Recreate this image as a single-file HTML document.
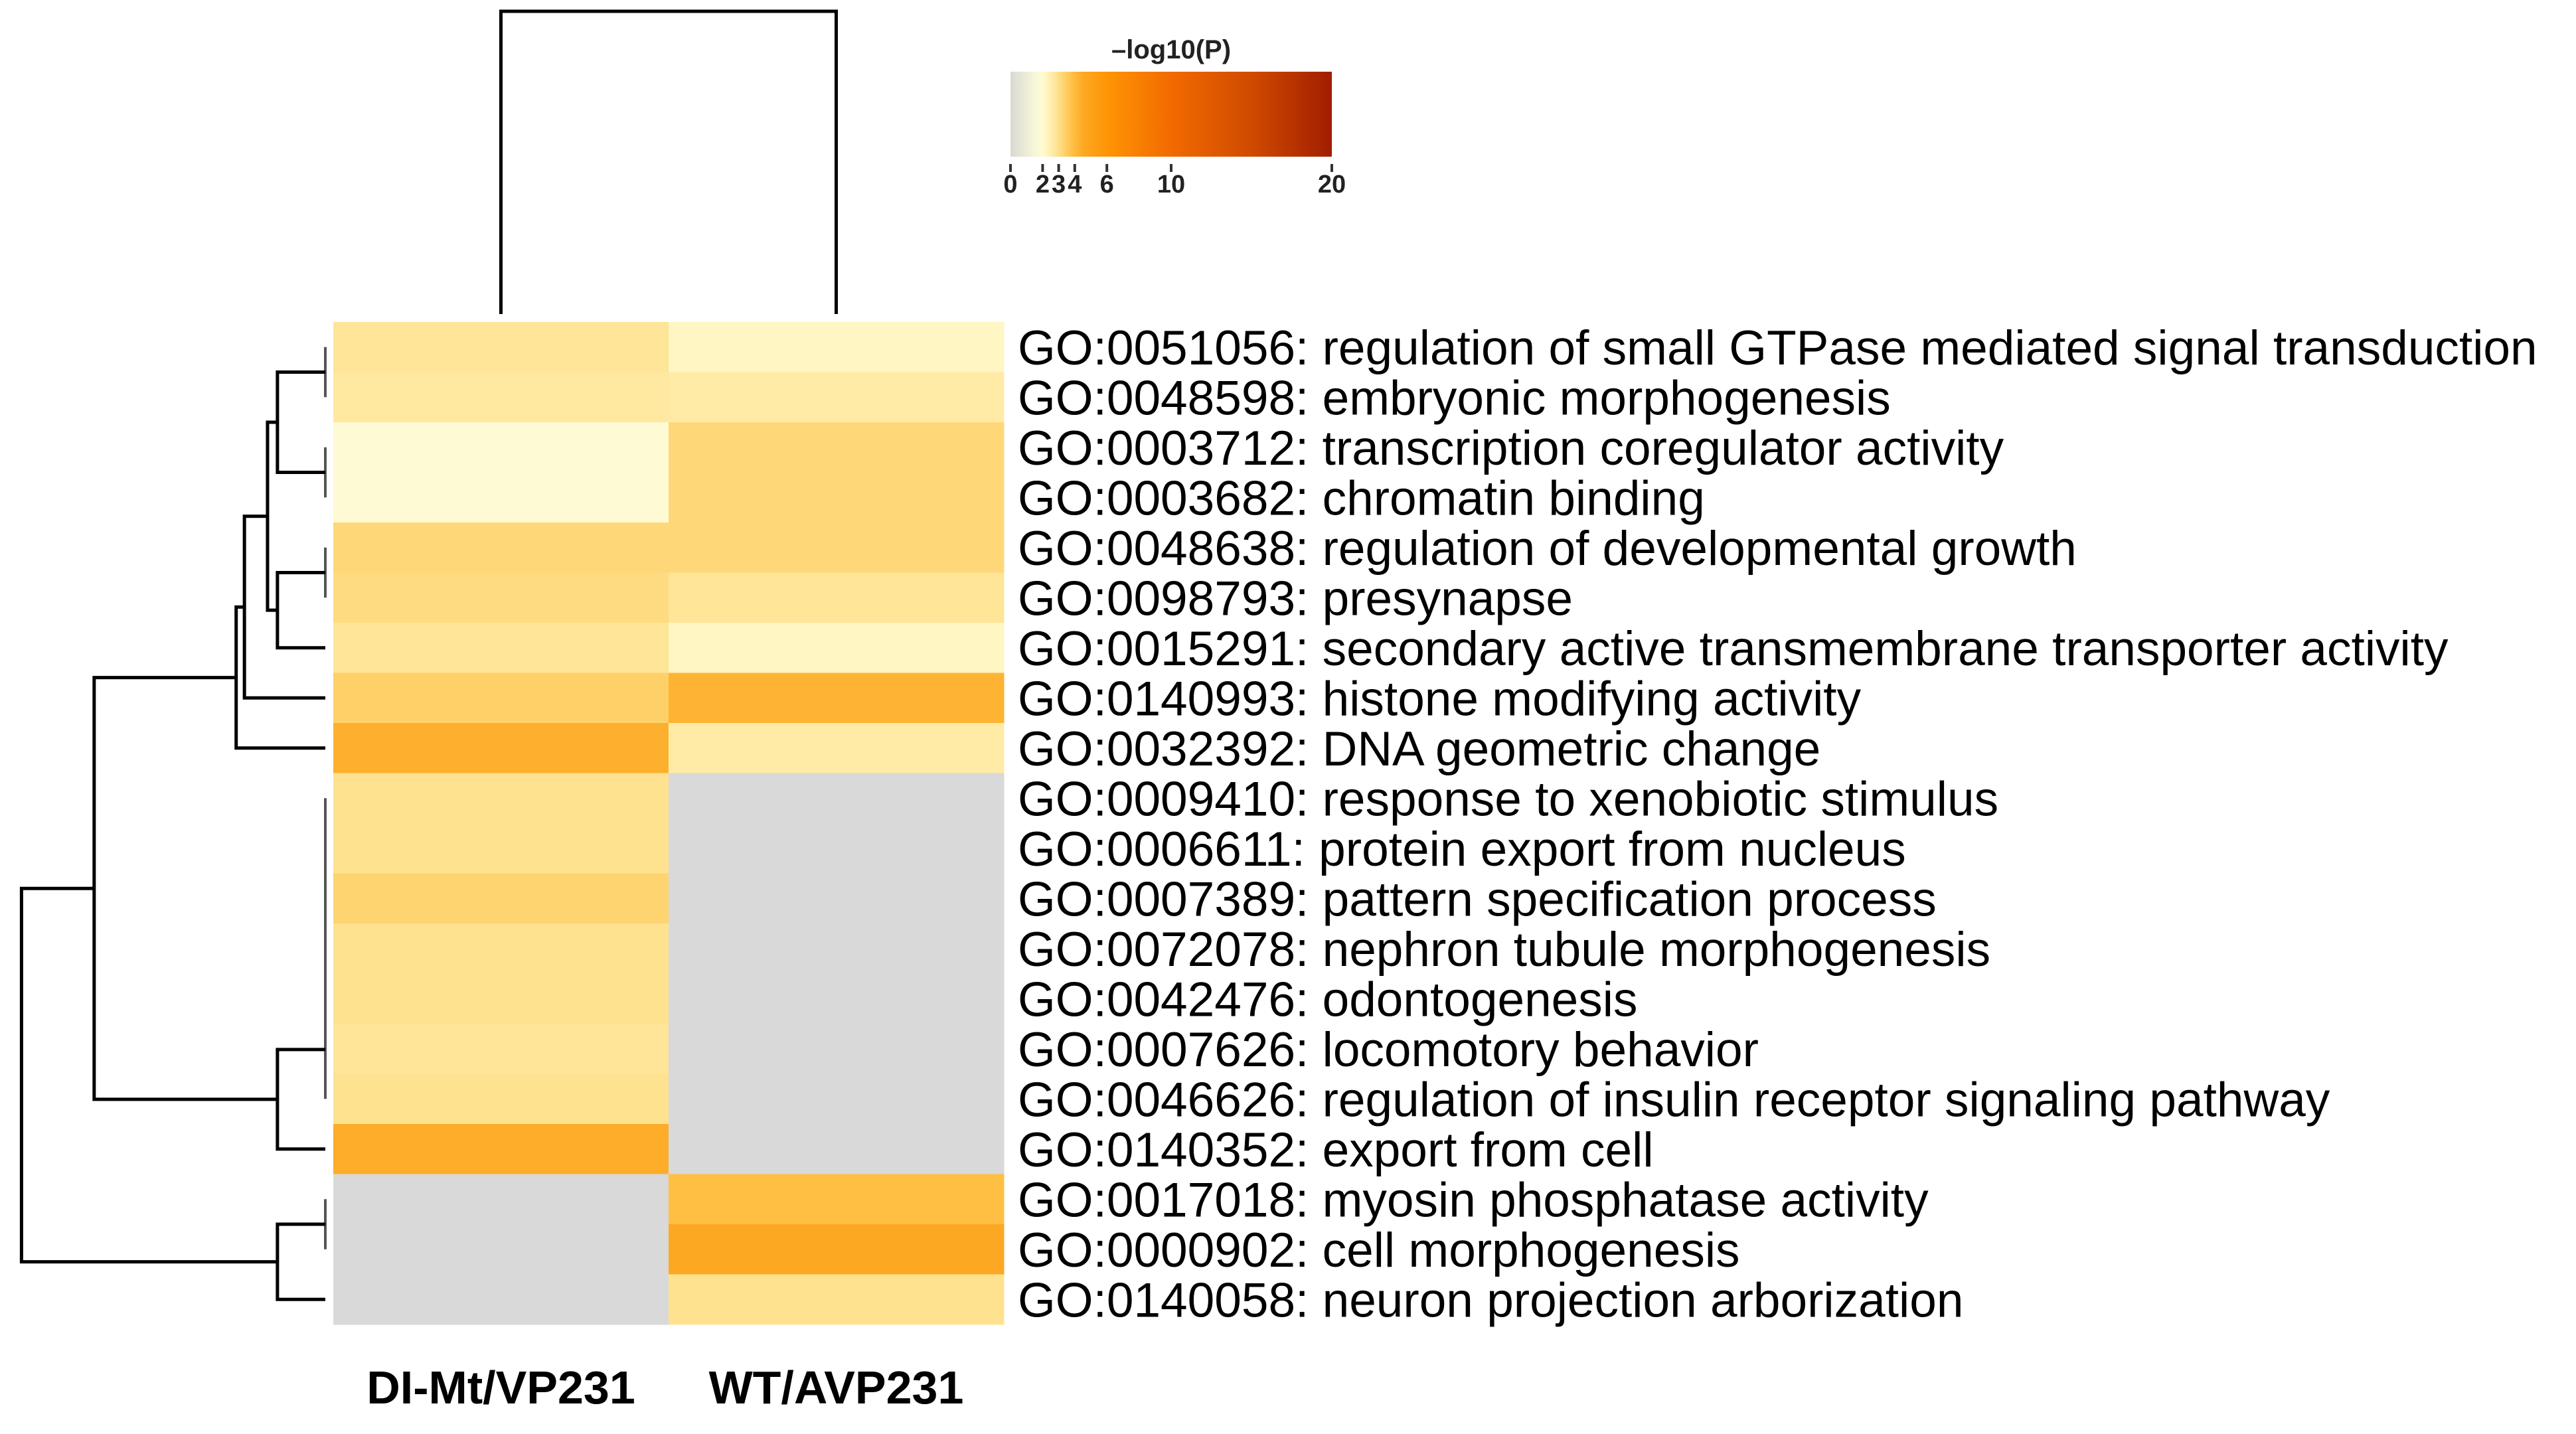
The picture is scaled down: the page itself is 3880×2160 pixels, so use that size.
<!DOCTYPE html>
<html><head><meta charset="utf-8"><style>
html,body{margin:0;padding:0;background:#fff;}
svg{display:block;}
text{font-family:"Liberation Sans",Arial,sans-serif;}
</style></head><body>
<svg id="chart" width="3880" height="2160" viewBox="0 0 3880 2160" xmlns="http://www.w3.org/2000/svg">
<defs><linearGradient id="cbar" x1="0" y1="0" x2="1" y2="0"></linearGradient></defs>
<g id="dendro-top"></g>
<g id="dendro-left"></g>
<g id="cells"></g>
<g id="rowlabels"></g>
<g id="collabels"></g>
<g id="legend"></g>
</svg>
<script>
const terms = ["GO:0051056: regulation of small GTPase mediated signal transduction","GO:0048598: embryonic morphogenesis","GO:0003712: transcription coregulator activity","GO:0003682: chromatin binding","GO:0048638: regulation of developmental growth","GO:0098793: presynapse","GO:0015291: secondary active transmembrane transporter activity","GO:0140993: histone modifying activity","GO:0032392: DNA geometric change","GO:0009410: response to xenobiotic stimulus","GO:0006611: protein export from nucleus","GO:0007389: pattern specification process","GO:0072078: nephron tubule morphogenesis","GO:0042476: odontogenesis","GO:0007626: locomotory behavior","GO:0046626: regulation of insulin receptor signaling pathway","GO:0140352: export from cell","GO:0017018: myosin phosphatase activity","GO:0000902: cell morphogenesis","GO:0140058: neuron projection arborization"];
const columns = ["DI-Mt/VP231","WT/AVP231"];
const valuesCol1 = [2.8,2.7,1.9,1.9,3.2,3.1,2.8,3.4,4.3,2.9,2.9,3.3,2.9,2.9,2.8,2.9,4.4,null,null,null];
const valuesCol2 = [2.2,2.6,3.2,3.2,3.2,2.8,2.2,4.2,2.6,null,null,null,null,null,null,null,null,3.9,4.6,2.9];
const cbarTicks = [0,2,3,4,6,10,20];
// row dendrogram merges: [childA, childB, height]; leaves 0..19, nodes 20+
const rowMerges = [[0,1,0],[2,3,0],[20,21,29],[4,5,0],[23,6,29],[22,24,35],[25,7,49],[26,8,54],
 [9,10,0],[28,11,0],[29,12,0],[30,13,0],[31,14,0],[32,15,0],[33,16,29],[27,34,140],
 [17,18,0],[36,19,29],[35,37,184]];

const NS="http://www.w3.org/2000/svg";
function mk(tag,attrs,parent){const e=document.createElementNS(NS,tag);for(const k in attrs)e.setAttribute(k,attrs[k]);parent.appendChild(e);return e;}
const stops=[[0,"#d9d9d3"],[1.5,"#f6f6da"],[2,"#fffbd2"],[2.5,"#ffeeae"],[3,"#fedf88"],[3.5,"#fecd60"],[4,"#febb3c"],[4.5,"#fda924"],[6,"#ff9505"],[10,"#f26a00"],[15,"#d04a00"],[20,"#a01e00"]];
function hex(c){return [1,3,5].map(i=>parseInt(c.substr(i,2),16));}
function color(v){if(v===null)return "#d9d9d9";for(let i=1;i<stops.length;i++){if(v<=stops[i][0]){const a=stops[i-1],b=stops[i];const t=(v-a[0])/(b[0]-a[0]);const ca=hex(a[1]),cb=hex(b[1]);return "rgb("+ca.map((x,j)=>Math.round(x+(cb[j]-x)*t)).join(",")+")";}}return stops[stops.length-1][1];}

const X0=502,X1=1512,Y0=485,Y1=1995;
const colW=(X1-X0)/columns.length, rowH=(Y1-Y0)/terms.length;
const xCol=i=>X0+i*colW, yRow=i=>Y0+i*rowH;
const cells=document.getElementById('cells');
[valuesCol1,valuesCol2].forEach((vals,c)=>{vals.forEach((v,r)=>{
 const el=mk('rect',{x:xCol(c),y:yRow(r),width:colW+0.5,height:rowH+0.5,fill:color(v)},cells);
 
 
});});
const rl=document.getElementById('rowlabels');
terms.forEach((t,r)=>{const el=mk('text',{x:1533,y:yRow(r)+rowH/2+26,'font-size':73,fill:'#000'},rl);el.textContent=t;
 
 });
const cl=document.getElementById('collabels');
columns.forEach((c,i)=>{const el=mk('text',{x:xCol(i)+colW/2,y:2114,'font-size':70,'font-weight':'bold','text-anchor':'middle',fill:'#000'},cl);el.textContent=c;
 
 });
// top dendrogram
const dt=document.getElementById('dendro-top');
const cx0=xCol(0)+colW/2,cx1=xCol(1)+colW/2;
const tp=mk('path',{d:`M${cx0} 473V17H${cx1}V473`,fill:'none',stroke:'#000','stroke-width':5},dt);


// left dendrogram
const dl=document.getElementById('dendro-left');
const LX=490,SC=2.487;
const pos={};
for(let i=0;i<terms.length;i++)pos[i]={x:LX,y:yRow(i)+rowH/2};
rowMerges.forEach((m,k)=>{
 const a=pos[m[0]],b=pos[m[1]];const x=LX-m[2]*SC;const y=(a.y+b.y)/2;
 pos[20+k]={x:x,y:y};
 const p=mk('path',{d:`M${a.x} ${a.y}H${x}V${b.y}H${b.x}`,fill:'none',stroke:m[2]===0?'#555':'#000','stroke-width':m[2]===0?4:5},dl);
 
 
});
// colorbar
const grad=document.getElementById('cbar');
stops.forEach(s=>mk('stop',{offset:(s[0]/20*100)+'%','stop-color':s[1]},grad));
const lg=document.getElementById('legend');
const BX0=1522,BX1=2006;
const bx=v=>BX0+(BX1-BX0)*v/20;
const bar=mk('rect',{x:BX0,y:108,width:BX1-BX0,height:128,fill:'url(#cbar)'},lg);


const tt=mk('text',{x:(BX0+BX1)/2,y:88,'font-size':40,'font-weight':'600','text-anchor':'middle',fill:'#222'},lg);tt.textContent='\u2013log10(P)';


cbarTicks.forEach(v=>{
 const tk=mk('line',{x1:bx(v),x2:bx(v),y1:247,y2:259,stroke:'#333','stroke-width':4},lg);
 
 
 const t=mk('text',{x:bx(v),y:290,'font-size':38,'font-weight':'600','text-anchor':'middle',fill:'#222'},lg);t.textContent=v;
 
 
});
</script>
</body></html>
